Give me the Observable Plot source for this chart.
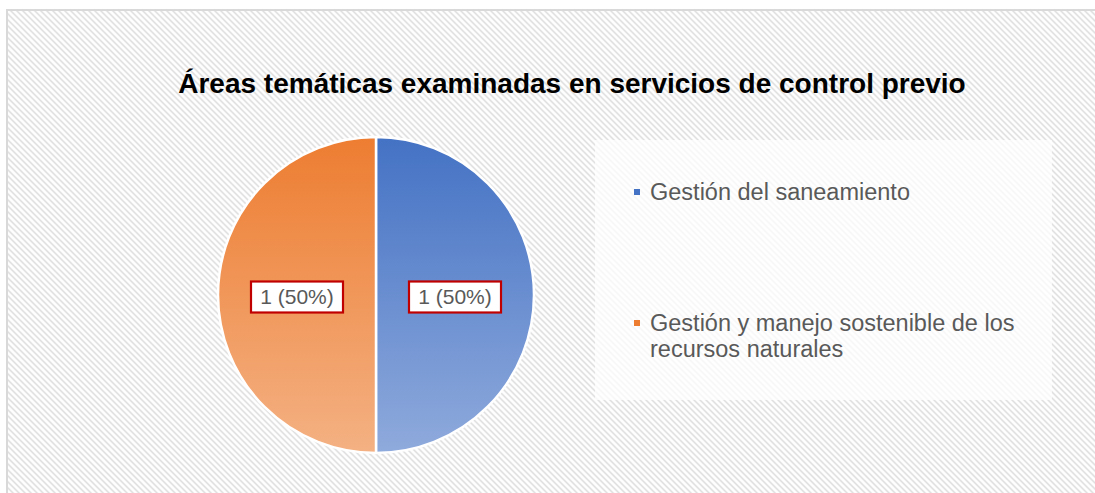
<!DOCTYPE html>
<html>
<head>
<meta charset="utf-8">
<script src="https://cdn.jsdelivr.net/npm/d3@7"></script>
<script src="https://cdn.jsdelivr.net/npm/@observablehq/plot@0.6"></script>
<style>
  html, body { margin: 0; padding: 0; width: 1095px; height: 493px; overflow: hidden; background: #fff; font-family: "Liberation Sans", Arial, sans-serif; }
  #frame { position: absolute; left: 6px; top: 9px; width: 1089px; height: 484px;
    border-left: 2px solid #d9d9d9; border-top: 2px solid #d9d9d9; background-color: #f0f0f0; }
  #title { position: absolute; left: 0; width: 1144px; top: 68px; text-align: center;
    font-size: 28px; font-weight: bold; color: #000; white-space: nowrap; line-height: 32px; }
  #chart { position: absolute; left: 208px; top: 127px; }
  #legend { position: absolute; left: 595px; top: 140px; width: 457px; height: 260px; background: rgba(255,255,255,0.72); }
  .item { position: absolute; left: 39px; font-size: 23.5px; line-height: 26px; color: #595959; padding-left: 16px; width: 420px; white-space: nowrap; }
  .sw { position: absolute; left: 0; top: 10px; width: 6px; height: 6px; }
</style>
</head>
<body>
<div id="frame"></div>
<div id="title"></div>
<div id="chart"></div>
<div id="legend"></div>
<script>
const titleText = "Áreas temáticas examinadas en servicios de control previo";
const categories = ["Gestión del saneamiento", "Gestión y manejo sostenible de los recursos naturales"];
const values = [1, 1];
const topColors = ["#4472c4", "#ed7d31"];
const bottomColors = ["#8faadc", "#f4b183"];
const legendLines = [["Gestión del saneamiento"], ["Gestión y manejo sostenible de los", "recursos naturales"]];
const legendTops = [39, 170];

document.getElementById("title").textContent = titleText;

// diagonal stripe background tile
(function () {
  const P = 6, prof = [255, 252, 236, 224, 236, 252];
  const c = document.createElement("canvas");
  c.width = P; c.height = P;
  const ctx = c.getContext("2d");
  const img = ctx.createImageData(P, P);
  for (let y = 0; y < P; y++) for (let x = 0; x < P; x++) {
    const v = prof[((x - y) % P + P) % P];
    const o = (y * P + x) * 4;
    img.data[o] = img.data[o + 1] = img.data[o + 2] = v; img.data[o + 3] = 255;
  }
  ctx.putImageData(img, 0, 0);
  document.getElementById("frame").style.backgroundImage = `url(${c.toDataURL()})`;
})();

const total = d3.sum(values);
const slices = d3.pie().sort(null).value(d => d.value)(
  categories.map((c, i) => ({category: c, value: values[i], i}))
);

function pieRender(index, scales, channels, dimensions, context) {
  const cx = scales.x(0), cy = scales.y(0);
  const r = Math.abs(scales.x(1) - scales.x(0));
  const g = d3.create("svg:g");
  const defs = g.append("defs");
  slices.forEach((s, i) => {
    const lg = defs.append("linearGradient").attr("id", "grad" + i)
      .attr("gradientUnits", "userSpaceOnUse")
      .attr("x1", 0).attr("y1", -r).attr("x2", 0).attr("y2", r);
    lg.append("stop").attr("offset", "0%").attr("stop-color", topColors[i]);
    lg.append("stop").attr("offset", "100%").attr("stop-color", bottomColors[i]);
  });
  const arc = d3.arc().innerRadius(0).outerRadius(r);
  g.selectAll("path.slice").data(slices).join("path")
    .attr("transform", `translate(${cx},${cy})`)
    .attr("d", arc)
    .attr("fill", (d, i) => `url(#grad${i})`)
    .attr("stroke", "#fff").attr("stroke-width", 2.5).attr("stroke-linejoin", "round");
  const lab = g.selectAll("g.lab").data(slices).join("g")
    .attr("transform", d => { const [x, y] = arc.centroid(d); return `translate(${cx + x},${cy + y + 2})`; });
  lab.append("rect").attr("x", -46).attr("y", -15.5).attr("width", 92).attr("height", 31)
    .attr("fill", "#fff").attr("stroke", "#c00000").attr("stroke-width", 2.2);
  lab.append("text").attr("text-anchor", "middle").attr("dy", "0.35em")
    .attr("font-size", 21).attr("fill", "#595959")
    .attr("font-family", "Liberation Sans, Arial, sans-serif")
    .text(d => `${d.data.value} (${Math.round(d.data.value / total * 100)}%)`);
  return g.node();
}

const plot = Plot.plot({
  width: 336,
  height: 336,
  margin: 10,
  style: {background: "transparent", overflow: "visible"},
  x: {domain: [-1, 1], axis: null},
  y: {domain: [-1, 1], axis: null},
  marks: [
    Plot.dot([{x: 0, y: 0}], {x: "x", y: "y", render: pieRender})
  ]
});
document.getElementById("chart").appendChild(plot);

const legend = document.getElementById("legend");
categories.forEach((c, i) => {
  const item = document.createElement("div");
  item.className = "item";
  item.style.top = legendTops[i] + "px";
  const sw = document.createElement("div");
  sw.className = "sw";
  sw.style.background = topColors[i];
  item.appendChild(sw);
  legendLines[i].forEach(line => {
    const d = document.createElement("div");
    d.textContent = line;
    item.appendChild(d);
  });
  legend.appendChild(item);
});
</script>
</body>
</html>
